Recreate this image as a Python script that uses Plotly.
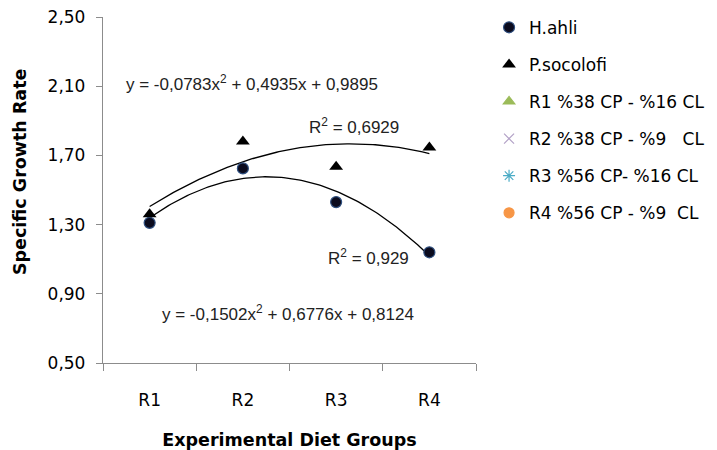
import numpy as np
import plotly.graph_objects as go

# ---- data ----
groups = ["R1", "R2", "R3", "R4"]
x_pos = [1, 2, 3, 4]
h_ahli = [1.31, 1.625, 1.43, 1.14]
p_socolofi = [1.36, 1.78, 1.635, 1.745]
h_coef = [-0.1502, 0.6776, 0.8124]
p_coef = [-0.0783, 0.4935, 0.9895]
y_tick_vals = [0.5, 0.9, 1.3, 1.7, 2.1, 2.5]
y_tick_text = ["0,50", "0,90", "1,30", "1,70", "2,10", "2,50"]
diet_names = ["R1 %38 CP - %16 CL", "R2 %38 CP - %9   CL", "R3 %56 CP- %16 CL", "R4 %56 CP - %9  CL"]
diet_symbols = ["triangle-up", "x-thin", "asterisk", "circle"]
diet_colors = ["#9bbb59", "#b3a2c7", "#4bacc6", "#f79646"]

TXT = "DejaVu Sans"
EQ = "Liberation Sans"

fig = go.Figure()

xs = np.linspace(1, 4, 120)
fig.add_trace(go.Scatter(x=xs, y=np.polyval(p_coef, xs), mode="lines",
                         line=dict(color="black", width=1.3), showlegend=False, hoverinfo="skip"))
fig.add_trace(go.Scatter(x=xs, y=np.polyval(h_coef, xs), mode="lines",
                         line=dict(color="black", width=1.3), showlegend=False, hoverinfo="skip"))

fig.add_trace(go.Scatter(x=x_pos, y=h_ahli, mode="markers", name="H.ahli", legendgroup="a",
                         marker=dict(symbol="circle", size=11, color="#0b0b1e",
                                     line=dict(color="#2f4f7f", width=1.2))))
fig.add_trace(go.Scatter(x=x_pos, y=p_socolofi, mode="markers", name="P.socolofi", legendgroup="b",
                         marker=dict(symbol="triangle-up", size=12, color="black")))

for i, (nm, sym, col) in enumerate(zip(diet_names, diet_symbols, diet_colors)):
    fig.add_trace(go.Scatter(x=[None], y=[None], mode="markers", name=nm, legendgroup="d%d" % i,
                             marker=dict(symbol=sym, size=10, color=col,
                                         line=dict(color=col, width=1.2))))

ann_font = dict(family=EQ, size=17, color="#222222")
anns = [
    ("y = -0,0783x<sup>2</sup> + 0,4935x + 0,9895", 2.10, 2.12),
    ("R<sup>2</sup> = 0,6929", 3.19, 1.87),
    ("R<sup>2</sup> = 0,929", 3.35, 1.11),
    ("y = -0,1502x<sup>2</sup> + 0,6776x + 0,8124", 2.482, 0.79),
]
for t, ax_, ay_ in anns:
    fig.add_annotation(x=ax_, y=ay_, xref="x", yref="y", text=t, showarrow=False, font=ann_font)

# y axis title placed as rotated text (centre slightly above the plot centre, as in the reference)
fig.add_annotation(x=-0.2225, y=0.552, xref="paper", yref="paper", text="<b>Specific Growth Rate</b>",
                   textangle=-90, showarrow=False, xanchor="center", yanchor="middle",
                   font=dict(family=TXT, size=17.5, color="black"))

axis_col = "#8c8c8c"
fig.update_layout(
    width=717, height=450,
    margin=dict(l=103, r=241, t=17, b=87, autoexpand=False),
    paper_bgcolor="white", plot_bgcolor="white",
    showlegend=True,
    legend=dict(x=1.035, xanchor="left", y=1.021, yanchor="top", font=dict(family=TXT, size=17, color="black"),
                tracegroupgap=12, itemwidth=30, bgcolor="rgba(0,0,0,0)", maxheight=420),
    xaxis=dict(range=[0.5, 4.5], tickmode="array", tickvals=x_pos, ticktext=groups,
               ticks="", showgrid=False, zeroline=False, showline=True, linecolor=axis_col, linewidth=1.3,
               tickfont=dict(family=TXT, size=17, color="black"), ticklabelstandoff=21,
               minor=dict(tickmode="array", tickvals=[0.5, 1.5, 2.5, 3.5, 4.5], ticks="outside",
                          ticklen=7, tickcolor=axis_col, tickwidth=1.3, showgrid=False),
               title=dict(text="<b>Experimental Diet Groups</b>", font=dict(family=TXT, size=17.5, color="black"),
                          standoff=26)),
    yaxis=dict(range=[0.5, 2.5], tickmode="array", tickvals=y_tick_vals, ticktext=y_tick_text,
               ticks="outside", ticklen=6, tickcolor=axis_col, tickwidth=1.3,
               showgrid=False, zeroline=False, showline=True, linecolor=axis_col, linewidth=1.3,
               tickfont=dict(family=TXT, size=17, color="black"), ticklabelstandoff=7),
)

fig.write_html("out.html")
